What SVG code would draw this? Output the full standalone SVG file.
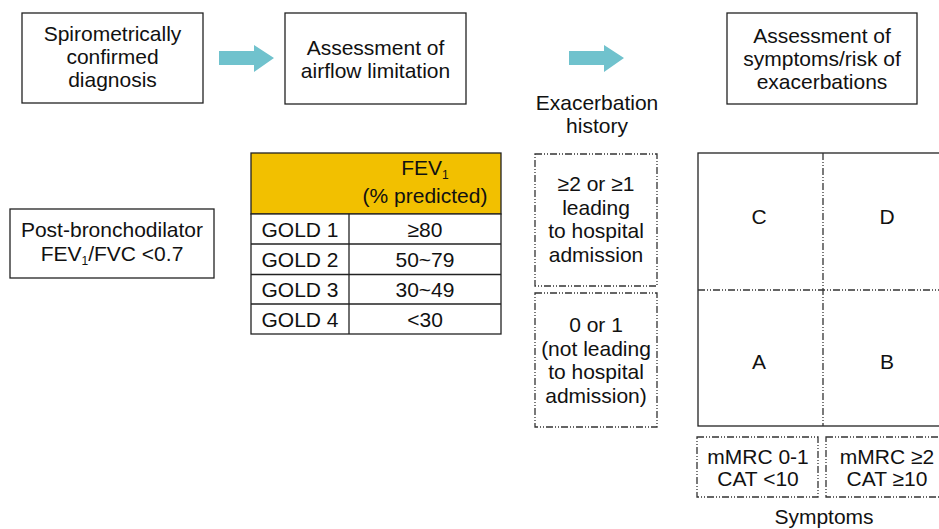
<svg xmlns="http://www.w3.org/2000/svg" width="939" height="529" viewBox="0 0 939 529">
<style>
text{font-family:"Liberation Sans",Arial,sans-serif;font-size:21px;fill:#111;text-anchor:middle}
.box{fill:#fff;stroke:#222;stroke-width:1.3}
.dd{fill:none;stroke:#333;stroke-width:1.3;stroke-dasharray:7 2 1 2 1 2}
.arrow{fill:#70c2cd}
.sub{font-size:12px}
</style>
<rect width="939" height="529" fill="#fff"/>
<g id="connectors">
<polygon class="arrow" points="219,51 254,51 254,45 274,58 254,72 254,65 219,65"/>
<polygon class="arrow" points="569,51 604,51 604,45 624,58 604,72 604,65 569,65"/>
</g>
<g id="spirometric">
<rect class="box" x="22" y="13" width="181" height="90"/>
<text x="112.5" y="41">Spirometrically</text>
<text x="112.5" y="64">confirmed</text>
<text x="112.5" y="87">diagnosis</text>
</g>
<g id="airflow">
<rect class="box" x="285" y="13" width="181" height="91"/>
<text x="375.5" y="55">Assessment of</text>
<text x="375.5" y="78">airflow limitation</text>
</g>
<g id="symptoms-risk">
<rect class="box" x="727" y="13" width="190" height="91"/>
<text x="822" y="43">Assessment of</text>
<text x="822" y="66">symptoms/risk of</text>
<text x="822" y="89">exacerbations</text>
</g>
<g id="exacerbation-label">
<text x="597" y="110">Exacerbation</text>
<text x="597" y="133">history</text>
</g>
<g id="post-bronchodilator">
<rect class="box" x="10" y="209" width="204" height="69"/>
<text x="112" y="237">Post-bronchodilator</text>
<text x="112" y="261">FEV<tspan class="sub" dy="4">1</tspan><tspan dy="-4">/FVC &lt;0.7</tspan></text>
</g>
<g id="gold-table">
<rect x="251" y="153" width="250" height="61" fill="#f2c000" stroke="#222" stroke-width="1.3"/>
<rect x="251" y="214" width="250" height="120" fill="#fff" stroke="#222" stroke-width="1.3"/>
<line x1="349" y1="214" x2="349" y2="334" stroke="#222" stroke-width="1.3"/>
<line x1="251" y1="244" x2="501" y2="244" stroke="#222" stroke-width="1.3"/>
<line x1="251" y1="274.5" x2="501" y2="274.5" stroke="#222" stroke-width="1.3"/>
<line x1="251" y1="304" x2="501" y2="304" stroke="#222" stroke-width="1.3"/>
<text x="425" y="175">FEV<tspan class="sub" dy="4">1</tspan></text>
<text x="425" y="203">(% predicted)</text>
<text x="300" y="236.5">GOLD 1</text>
<text x="425" y="236.5">≥80</text>
<text x="300" y="266.5">GOLD 2</text>
<text x="425" y="266.5">50~79</text>
<text x="300" y="296.5">GOLD 3</text>
<text x="425" y="296.5">30~49</text>
<text x="300" y="326.5">GOLD 4</text>
<text x="425" y="326.5">&lt;30</text>
</g>
<g id="exacerbation-high">
<rect class="dd" x="535" y="154" width="122" height="132"/>
<text x="596" y="191">≥2 or ≥1</text>
<text x="596" y="214.5">leading</text>
<text x="596" y="238">to hospital</text>
<text x="596" y="261.5">admission</text>
</g>
<g id="exacerbation-low">
<rect class="dd" x="535" y="293" width="122" height="134"/>
<text x="596" y="332">0 or 1</text>
<text x="596" y="355.5">(not leading</text>
<text x="596" y="379">to hospital</text>
<text x="596" y="402.5">admission)</text>
</g>
<g id="abcd-grid">
<rect class="box" x="698" y="153" width="270" height="273"/>
<line class="dd" x1="823" y1="153" x2="823" y2="426"/>
<line class="dd" x1="698" y1="290" x2="968" y2="290"/>
<text x="759" y="224">C</text>
<text x="887" y="224">D</text>
<text x="759" y="369">A</text>
<text x="887" y="369">B</text>
</g>
<g id="symptoms-low">
<rect class="dd" x="697" y="437" width="121" height="60"/>
<text x="758" y="464">mMRC 0-1</text>
<text x="758" y="486">CAT &lt;10</text>
</g>
<g id="symptoms-high">
<rect class="dd" x="826" y="437" width="130" height="60"/>
<text x="887" y="464">mMRC ≥2</text>
<text x="887" y="486">CAT ≥10</text>
</g>
<g id="symptoms-label">
<text x="824" y="524">Symptoms</text>
</g>
</svg>
